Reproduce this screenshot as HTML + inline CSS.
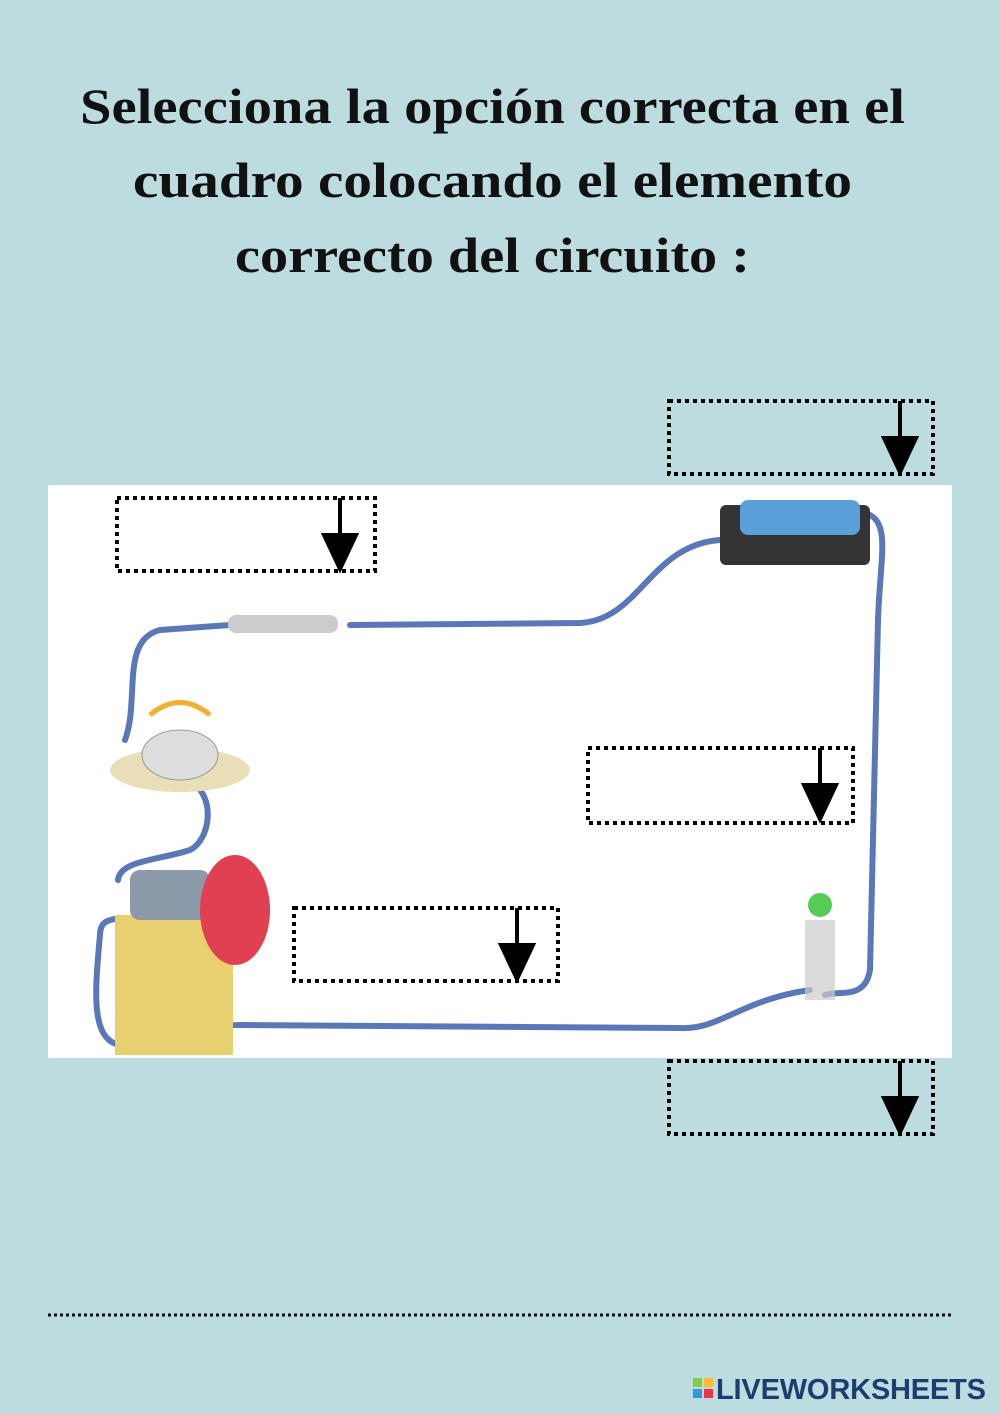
<!DOCTYPE html>
<html><head><style>
body{margin:0;width:1000px;height:1414px;background:#bcdcdf;overflow:hidden;position:relative;font-family:"Liberation Serif",serif}
</style></head><body>
<svg width="1000" height="1414" style="position:absolute;left:0;top:0">
<g font-family="Liberation Serif" font-weight="bold" font-size="50" fill="#111">
<text x="80" y="123" textLength="825" lengthAdjust="spacingAndGlyphs">Selecciona la opción correcta en el</text>
<text x="133" y="197" textLength="719" lengthAdjust="spacingAndGlyphs">cuadro colocando el elemento</text>
<text x="235" y="272" textLength="515" lengthAdjust="spacingAndGlyphs">correcto del circuito :</text>
</g>
<rect x="48" y="485" width="904" height="573" fill="#fff"/>
<g fill="none" stroke="#5a78b8" stroke-width="6" stroke-linecap="round">
<path d="M350 625 L580 623 C640 620 650 545 720 540"/>
<path d="M870 515 C890 525 880 560 878 620 L870 970 C865 1000 840 990 825 995"/>
<path d="M810 990 C740 1000 720 1030 680 1028 L240 1025 C200 1025 170 1050 120 1045 C90 1040 95 990 100 935 C100 920 110 920 120 918"/>
<path d="M230 625 L160 630 C120 640 140 700 125 740"/>
<path d="M195 785 C215 800 210 840 190 850 C160 860 120 860 118 880"/>
</g>
<rect x="720" y="505" width="150" height="60" rx="6" fill="#333"/>
<rect x="740" y="500" width="120" height="35" rx="8" fill="#5aa0d8"/>
<rect x="228" y="615" width="110" height="18" rx="8" fill="#ccc"/>
<ellipse cx="180" cy="770" rx="70" ry="22" fill="#e8dfb8"/>
<ellipse cx="180" cy="755" rx="38" ry="25" fill="#ddd" stroke="#999"/>
<path d="M150 715 Q180 690 210 715" stroke="#f0b030" stroke-width="5" fill="none"/>
<rect x="115" y="915" width="118" height="140" fill="#e8d070"/>
<rect x="130" y="870" width="80" height="50" rx="10" fill="#8a9aa8"/>
<ellipse cx="235" cy="910" rx="35" ry="55" fill="#e04050"/>
<rect x="805" y="920" width="30" height="80" fill="#ccc" opacity=".7"/>
<circle cx="820" cy="905" r="12" fill="#5c5"/>
<g fill="none" stroke="#000" stroke-width="4" stroke-dasharray="4 4">
<rect x="669" y="401" width="264" height="73"/>
<rect x="117" y="498" width="258" height="73"/>
<rect x="588" y="748" width="265" height="75"/>
<rect x="294" y="908" width="264" height="73"/>
<rect x="669" y="1061" width="264" height="73"/>
</g>
<g stroke="#000" stroke-width="4" fill="#000">
<line x1="900" y1="401" x2="900" y2="440"/><path d="M884 438 L916 438 L900 472Z"/>
<line x1="340" y1="498" x2="340" y2="537"/><path d="M324 535 L356 535 L340 569Z"/>
<line x1="820" y1="748" x2="820" y2="787"/><path d="M804 785 L836 785 L820 819Z"/>
<line x1="517" y1="908" x2="517" y2="947"/><path d="M501 945 L533 945 L517 979Z"/>
<line x1="900" y1="1061" x2="900" y2="1100"/><path d="M884 1098 L916 1098 L900 1132Z"/>
</g>
<line x1="48" y1="1315" x2="952" y2="1315" stroke="#111" stroke-width="3" stroke-dasharray="3 3"/>
<rect x="693" y="1378" width="9" height="9" fill="#8c4"/><rect x="704" y="1378" width="9" height="9" fill="#fb3"/>
<rect x="693" y="1389" width="9" height="9" fill="#39d"/><rect x="704" y="1389" width="9" height="9" fill="#e34"/>
<text x="716" y="1399" font-family="Liberation Sans" font-weight="bold" font-size="29" fill="#1d3d6e" textLength="270">LIVEWORKSHEETS</text>
</svg>
</body></html>
